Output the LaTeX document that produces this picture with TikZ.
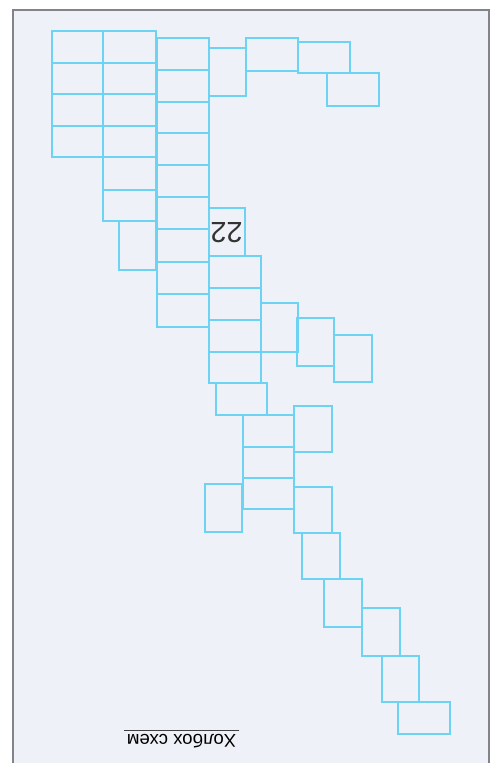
\documentclass[tikz,border=0pt]{standalone}
\usepackage{fontspec}
\setmainfont{Liberation Sans}
\usepackage{xcolor}
\usepackage{tikz}
\definecolor{cellblue}{RGB}{108,212,242}
\definecolor{paper}{RGB}{238,241,247}
\definecolor{frameline}{RGB}{130,132,138}

\begin{document}
\begin{tikzpicture}[x=1pt, y=-1pt,
  cell/.style={draw=cellblue, line width=1.9pt, line join=miter},
  tag/.style={font=\fontsize{29}{29}\selectfont, text=black!80, inner sep=0pt}]
\useasboundingbox (0,0) rectangle (496,763);
% --- Page and frame ---
\fill[white] (0,0) rectangle (496,763);
\fill[paper] (13,10) rectangle (489,763);
\draw[frameline, line width=1.2pt] (13,763) -- (13,10) -- (489,10) -- (489,763);

% --- Upper block: two wide columns ---
\draw[cell] (52,31) rectangle (103,63);
\draw[cell] (52,63) rectangle (103,94);
\draw[cell] (52,94) rectangle (103,126);
\draw[cell] (52,126) rectangle (103,157);
\draw[cell] (103,31) rectangle (156,63);
\draw[cell] (103,63) rectangle (156,94);
\draw[cell] (103,94) rectangle (156,126);
\draw[cell] (103,126) rectangle (156,157);
\draw[cell] (103,157) rectangle (156,190);
\draw[cell] (103,190) rectangle (156,221);
\draw[cell] (119,221) rectangle (156,270);
% Third column (nine cells)
\draw[cell] (157,38) rectangle (209,70);
\draw[cell] (157,70) rectangle (209,102);
\draw[cell] (157,102) rectangle (209,133);
\draw[cell] (157,133) rectangle (209,165);
\draw[cell] (157,165) rectangle (209,197);
\draw[cell] (157,197) rectangle (209,229);
\draw[cell] (157,229) rectangle (209,262);
\draw[cell] (157,262) rectangle (209,294);
\draw[cell] (157,294) rectangle (209,327);
% Top arm to the right
\draw[cell] (209,48) rectangle (246,96);
\draw[cell] (246,38) rectangle (298,71);
\draw[cell] (298,42) rectangle (350,73);
\draw[cell] (327,73) rectangle (379,106);

% --- Numbered cell ---
\draw[cell] (209,208) rectangle (245,256);
\node[tag, rotate=180] (num) at (226.5,233) {22};

% --- Middle block ---
\draw[cell] (209,256) rectangle (261,288);
\draw[cell] (209,288) rectangle (261,320);
\draw[cell] (209,320) rectangle (261,352);
\draw[cell] (209,352) rectangle (261,383);
\draw[cell] (261,303) rectangle (298,352);
\draw[cell] (297,318) rectangle (334,366);
\draw[cell] (334,335) rectangle (372,382);
\draw[cell] (216,383) rectangle (267,415);
\draw[cell] (243,415) rectangle (294,447);
\draw[cell] (243,447) rectangle (294,478);
\draw[cell] (243,478) rectangle (294,509);
\draw[cell] (294,406) rectangle (332,452);
\draw[cell] (205,484) rectangle (242,532);
\draw[cell] (294,487) rectangle (332,533);

% --- Lower stair ---
\draw[cell] (302,533) rectangle (340,579);
\draw[cell] (324,579) rectangle (362,627);
\draw[cell] (362,608) rectangle (400,656);
\draw[cell] (382,656) rectangle (419,702);
\draw[cell] (398,702) rectangle (450,734);

% --- Caption (page printed upside down) ---
\node[rotate=180, font=\fontsize{18.5}{18.5}\selectfont, inner sep=3pt]
  (title) at (181.5,741) {Холбох схем};
\draw[black!75, line width=0.9pt] (title.south west) -- (title.south east);
\end{tikzpicture}
\end{document}
